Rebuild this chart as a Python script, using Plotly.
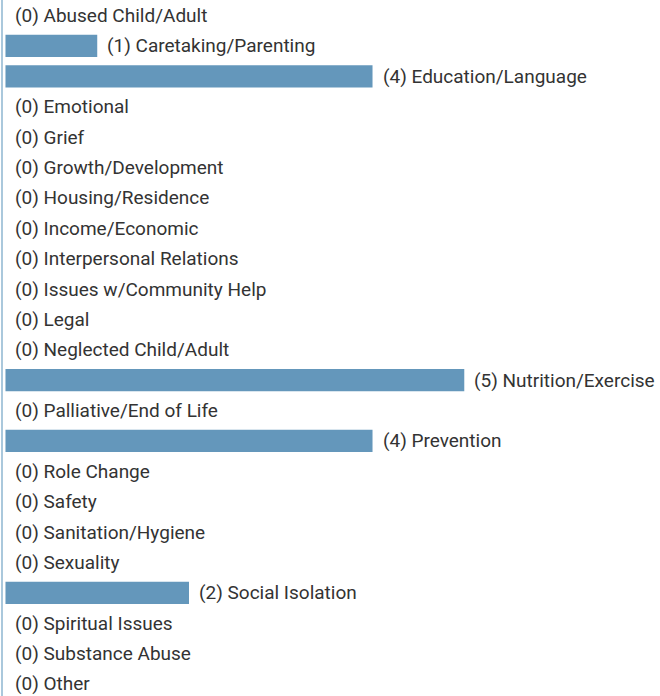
import plotly.graph_objects as go

categories = [
    "Abused Child/Adult", "Caretaking/Parenting", "Education/Language", "Emotional",
    "Grief", "Growth/Development", "Housing/Residence", "Income/Economic",
    "Interpersonal Relations", "Issues w/Community Help", "Legal",
    "Neglected Child/Adult", "Nutrition/Exercise", "Palliative/End of Life",
    "Prevention", "Role Change", "Safety", "Sanitation/Hygiene", "Sexuality",
    "Social Isolation", "Spiritual Issues", "Substance Abuse", "Other",
]
values = [0, 1, 4, 0, 0, 0, 0, 0, 0, 0, 0, 0, 5, 0, 4, 0, 0, 0, 0, 2, 0, 0, 0]

BAR_COLOR = "#6497bb"
LINE_COLOR = "#aac8dc"
TEXT_COLOR = "#333333"

fig = go.Figure()
fig.add_trace(go.Bar(
    x=values, y=categories, orientation="h",
    marker=dict(color=BAR_COLOR, line=dict(width=0)),
    hoverinfo="skip",
))

for c, v in zip(categories, values):
    fig.add_annotation(
        x=v, y=c, xref="x", yref="y",
        text=f"({v}) {c}", showarrow=False,
        xanchor="left", yanchor="middle", xshift=8,
        font=dict(family="Roboto", size=19, color=TEXT_COLOR),
    )

fig.update_layout(
    width=660, height=696,
    margin=dict(l=3, r=0, t=0, b=0),
    paper_bgcolor="white", plot_bgcolor="white",
    bargap=0.266,
    showlegend=False,
    xaxis=dict(range=[-0.027, 7.133], visible=False, fixedrange=True),
    yaxis=dict(
        categoryorder="array", categoryarray=categories,
        range=[22.397, -0.513],
        showticklabels=False, ticks="", showgrid=False, zeroline=False,
        showline=True, linecolor=LINE_COLOR, linewidth=2,
        fixedrange=True,
    ),
)

fig.write_html(
    "out.html",
    config={"displayModeBar": False},
    post_script="document.body.style.margin='0';document.body.style.overflow='hidden';",
)
